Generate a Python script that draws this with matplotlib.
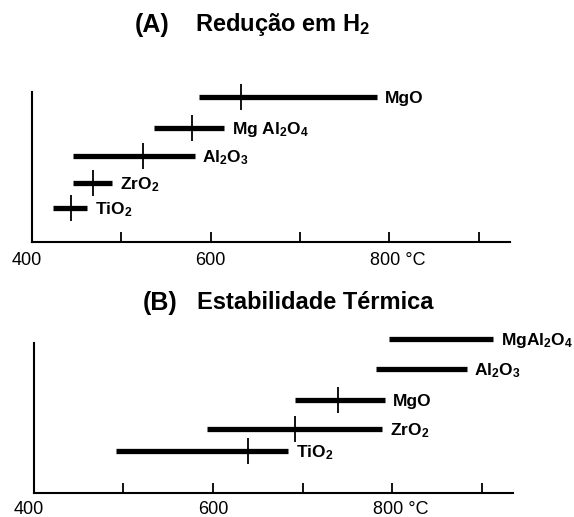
import matplotlib
matplotlib.use("Agg")
import matplotlib.pyplot as plt

plt.rcParams['font.family'] = ['Liberation Sans', 'DejaVu Sans']
plt.rcParams['mathtext.fontset'] = 'custom'
plt.rcParams['mathtext.rm'] = 'Liberation Sans:bold'
plt.rcParams['mathtext.default'] = 'rm'

# (A) Redução em H2
a_labels = ['TiO$_2$', 'ZrO$_2$', 'Al$_2$O$_3$', 'Mg Al$_2$O$_4$', 'MgO']
a_rows = [1.2, 2.1, 3.07, 4.07, 5.2]
a_low = [424, 446, 446, 537, 587]
a_high = [462, 490, 582, 615, 786]
a_mark = [444, 468, 524, 579, 634]

# (B) Estabilidade Térmica
b_labels = ['TiO$_2$', 'ZrO$_2$', 'MgO', 'Al$_2$O$_3$', 'MgAl$_2$O$_4$']
b_rows = [1.5, 2.29, 3.32, 4.43, 5.5]
b_low = [492, 593, 691, 782, 796]
b_high = [684, 789, 792, 883, 913]
b_mark = [639, 691, 740, None, None]

tick_vals = [400, 600, 800]
tick_text = ['400', '600', '800 °C']


def panel(ax, rows, low, high, mark, labels, label_dy=-7.5):
    ax.hlines(rows, low, high, color='black', lw=3.8, clip_on=False)
    for r, m in zip(rows, mark):
        if m is not None:
            ax.plot(m, r, marker='|', ms=19, mew=1.3, color='black', clip_on=False)
    for r, h, lab in zip(rows, high, labels):
        ax.annotate(lab, xy=(h, r), xytext=(5.5, -4.5), textcoords='offset points',
                    fontsize=12.5, fontweight='bold', va='baseline', ha='left',
                    annotation_clip=False)
    ax.set_xlim(400, 935)
    ax.set_ylim(0, 5.36)
    for s in ['top', 'right']:
        ax.spines[s].set_visible(False)
    for s in ['left', 'bottom']:
        ax.spines[s].set_linewidth(1.5)
    ax.set_yticks([])
    ax.set_xticks([500, 600, 700, 800, 900])
    ax.set_xticklabels([])
    ax.tick_params(axis='x', direction='in', length=7, width=1.3)
    offsets = {400: (-3.6, 'center'), 600: (0, 'center'), 800: (-14, 'left')}
    for v, t in zip(tick_vals, tick_text):
        dx, ha = offsets[v]
        ax.annotate(t, xy=(v, 0), xycoords=('data', 'axes fraction'),
                    xytext=(dx, label_dy), textcoords='offset points',
                    fontsize=13, ha=ha, va='top', annotation_clip=False)


fig = plt.figure(figsize=(5.74, 5.17), dpi=100)
ax_a = fig.add_axes([0.0557, 0.532, 0.833, 0.290])
ax_b = fig.add_axes([0.059, 0.046, 0.835, 0.291])

panel(ax_a, a_rows, a_low, a_high, a_mark, a_labels)
panel(ax_b, b_rows, b_low, b_high, b_mark, b_labels, label_dy=-5.5)

fig.text(0.235, 0.952, '(A)', fontsize=18, fontweight='bold', va='center')
fig.text(0.340, 0.952, 'Redução em H$_2$', fontsize=17, fontweight='bold', va='center')
fig.text(0.249, 0.414, '(B)', fontsize=18, fontweight='bold', va='center')
fig.text(0.343, 0.414, 'Estabilidade Térmica', fontsize=17, fontweight='bold', va='center')

fig.savefig('out.png', dpi=100)
